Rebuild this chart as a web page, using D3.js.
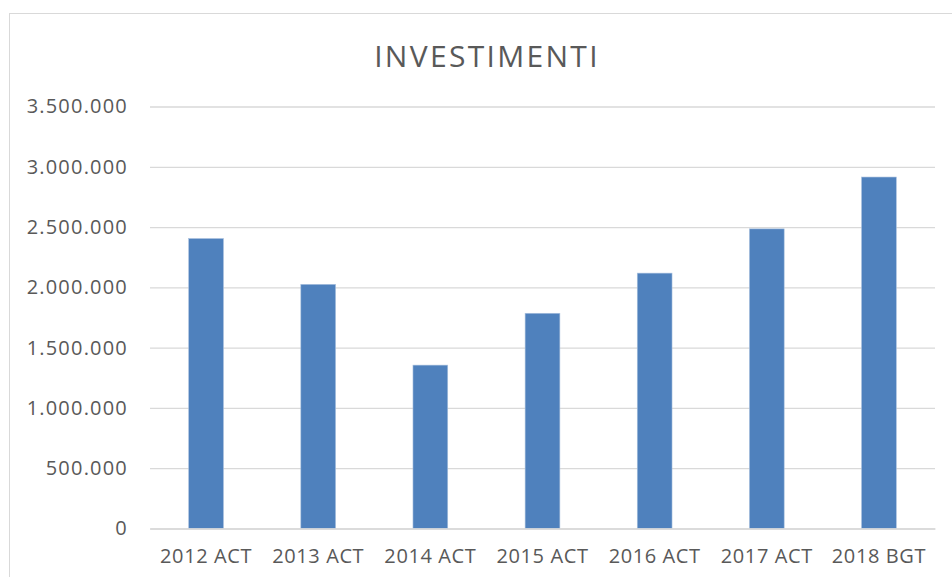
<!doctype html>
<html lang="it">
<head>
    <meta charset="utf-8">
    <title>Investimenti</title>
    <script src="https://cdn.jsdelivr.net/npm/d3@7"></script>
    <style>
        body { margin: 0; background: #ffffff; }
        svg { display: block; }
        .axis text { font-family: "Open Sans", sans-serif; fill: #595959; }
    </style>
</head>
<body>
    <svg></svg>
    <script>
        var categories = ["2012 ACT", "2013 ACT", "2014 ACT", "2015 ACT", "2016 ACT", "2017 ACT", "2018 BGT"];
        var values = [2405000, 2025000, 1355000, 1785000, 2118000, 2485000, 2915000];
        var yTicks = [0, 500000, 1000000, 1500000, 2000000, 2500000, 3000000, 3500000];

        var width = 952;
        var height = 577;
        var plotLeft = 150, plotRight = 935, plotTop = 106.5, plotBottom = 528.5;

        var svg = d3.select('svg').attr('width', width).attr('height', height);

        // chart frame
        svg.append('rect')
            .attr('x', 9.5).attr('y', 13.5)
            .attr('width', 960).attr('height', 600)
            .attr('fill', 'none')
            .attr('stroke', '#d9d9d9')
            .attr('stroke-width', 1);

        var xScale = d3.scaleBand()
            .domain(categories)
            .range([plotLeft, plotRight])
            .paddingInner(0.69)
            .paddingOuter(0.345);

        var yScale = d3.scaleLinear()
            .domain([0, 3500000])
            .range([plotBottom, plotTop]);

        var fmt = function (d) { return d3.format(',')(d).replace(/,/g, '.'); };

        // y axis with gridlines
        var yAxis = d3.axisLeft(yScale)
            .tickValues(yTicks)
            .tickSize(-(plotRight - plotLeft))
            .tickPadding(22)
            .tickFormat(fmt);

        var gy = svg.append('g')
            .attr('class', 'axis')
            .attr('transform', 'translate(' + plotLeft + ',0)')
            .call(yAxis);
        gy.select('.domain').remove();
        gy.selectAll('line').attr('stroke', '#d9d9d9').attr('stroke-width', 1.3);
        gy.selectAll('text').attr('font-size', '20px').attr('letter-spacing', '1.2px');

        // bars
        svg.selectAll('rect.bar')
            .data(values)
            .enter()
            .append('rect')
            .attr('class', 'bar')
            .attr('x', function (d, i) { return xScale(categories[i]); })
            .attr('y', function (d) { return yScale(d); })
            .attr('width', xScale.bandwidth())
            .attr('height', function (d) { return plotBottom - yScale(d); })
            .attr('fill', '#4f81bd')
            .attr('stroke', '#a9c0de')
            .attr('stroke-width', 0.6);

        // x axis
        var xAxis = d3.axisBottom(xScale).tickSize(0).tickPadding(20);
        var gx = svg.append('g')
            .attr('class', 'axis')
            .attr('transform', 'translate(0,' + plotBottom + ')')
            .call(xAxis);
        gx.select('.domain').attr('stroke', '#d9d9d9').attr('stroke-width', 1.3);
        gx.selectAll('text').attr('font-size', '20px').attr('letter-spacing', '0.6px');

        // title
        svg.append('text')
            .attr('x', 487)
            .attr('y', 67)
            .attr('text-anchor', 'middle')
            .attr('font-family', '"Open Sans", sans-serif')
            .attr('font-size', '30px')
            .attr('letter-spacing', '2.3px')
            .attr('fill', '#595959')
            .text('INVESTIMENTI');
    </script>
</body>
</html>
